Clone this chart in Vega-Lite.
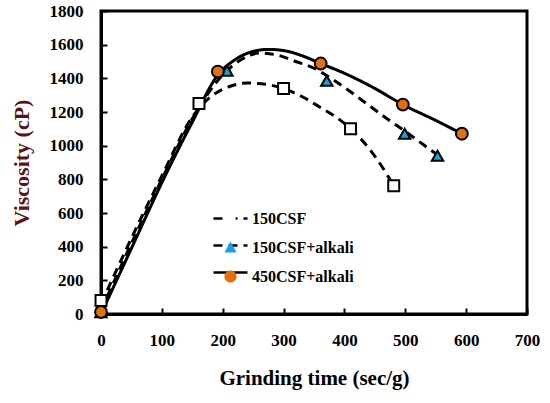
{
  "$schema": "https://vega.github.io/schema/vega-lite/v6.json",
  "autosize": "none",
  "width": 426,
  "height": 303,
  "padding": {"left": 101, "top": 11, "right": 23, "bottom": 89},
  "background": "white",
  "config": {
    "view": {"stroke": "black", "strokeWidth": 3},
    "font": "Liberation Serif",
    "axis": {"labelFont": "Liberation Serif", "titleFont": "Liberation Serif"},
    "legend": {"labelFont": "Liberation Serif", "symbolStrokeColor": "black"}
  },
  "datasets": {
    "points": [
      {"series": "150CSF", "t": 0, "v": 80},
      {"series": "150CSF", "t": 161, "v": 1250},
      {"series": "150CSF", "t": 300, "v": 1339},
      {"series": "150CSF", "t": 410, "v": 1101},
      {"series": "150CSF", "t": 481, "v": 762},
      {"series": "150CSF+alkali", "t": 0, "v": 10},
      {"series": "150CSF+alkali", "t": 207, "v": 1445},
      {"series": "150CSF+alkali", "t": 371, "v": 1385},
      {"series": "150CSF+alkali", "t": 499, "v": 1071},
      {"series": "150CSF+alkali", "t": 553, "v": 940},
      {"series": "450CSF+alkali", "t": 0, "v": 12},
      {"series": "450CSF+alkali", "t": 192, "v": 1440},
      {"series": "450CSF+alkali", "t": 361, "v": 1488},
      {"series": "450CSF+alkali", "t": 496, "v": 1244},
      {"series": "450CSF+alkali", "t": 593, "v": 1071}
    ],
    "curves": [
      {"series": "150CSF", "t": 0, "v": 60},
      {"series": "150CSF", "t": 50, "v": 450},
      {"series": "150CSF", "t": 100, "v": 820},
      {"series": "150CSF", "t": 150, "v": 1170},
      {"series": "150CSF", "t": 180, "v": 1290},
      {"series": "150CSF", "t": 210, "v": 1350},
      {"series": "150CSF", "t": 240, "v": 1372},
      {"series": "150CSF", "t": 270, "v": 1365},
      {"series": "150CSF", "t": 300, "v": 1338},
      {"series": "150CSF", "t": 330, "v": 1292},
      {"series": "150CSF", "t": 360, "v": 1228},
      {"series": "150CSF", "t": 390, "v": 1160},
      {"series": "150CSF", "t": 410, "v": 1101},
      {"series": "150CSF", "t": 440, "v": 985},
      {"series": "150CSF", "t": 460, "v": 885},
      {"series": "150CSF", "t": 481, "v": 762},
      {"series": "150CSF+alkali", "t": 0, "v": 20},
      {"series": "150CSF+alkali", "t": 50, "v": 420},
      {"series": "150CSF+alkali", "t": 100, "v": 800},
      {"series": "150CSF+alkali", "t": 150, "v": 1160},
      {"series": "150CSF+alkali", "t": 200, "v": 1420},
      {"series": "150CSF+alkali", "t": 230, "v": 1510},
      {"series": "150CSF+alkali", "t": 260, "v": 1550},
      {"series": "150CSF+alkali", "t": 290, "v": 1538},
      {"series": "150CSF+alkali", "t": 320, "v": 1500},
      {"series": "150CSF+alkali", "t": 350, "v": 1460},
      {"series": "150CSF+alkali", "t": 380, "v": 1395},
      {"series": "150CSF+alkali", "t": 410, "v": 1320},
      {"series": "150CSF+alkali", "t": 440, "v": 1240},
      {"series": "150CSF+alkali", "t": 470, "v": 1160},
      {"series": "150CSF+alkali", "t": 500, "v": 1085},
      {"series": "150CSF+alkali", "t": 530, "v": 1005},
      {"series": "150CSF+alkali", "t": 553, "v": 945},
      {"series": "450CSF+alkali", "t": 0, "v": 0},
      {"series": "450CSF+alkali", "t": 50, "v": 390},
      {"series": "450CSF+alkali", "t": 100, "v": 780},
      {"series": "450CSF+alkali", "t": 150, "v": 1140},
      {"series": "450CSF+alkali", "t": 192, "v": 1420},
      {"series": "450CSF+alkali", "t": 220, "v": 1510},
      {"series": "450CSF+alkali", "t": 250, "v": 1560},
      {"series": "450CSF+alkali", "t": 275, "v": 1572},
      {"series": "450CSF+alkali", "t": 300, "v": 1565},
      {"series": "450CSF+alkali", "t": 330, "v": 1535},
      {"series": "450CSF+alkali", "t": 361, "v": 1488},
      {"series": "450CSF+alkali", "t": 400, "v": 1430},
      {"series": "450CSF+alkali", "t": 450, "v": 1340},
      {"series": "450CSF+alkali", "t": 496, "v": 1244},
      {"series": "450CSF+alkali", "t": 550, "v": 1150},
      {"series": "450CSF+alkali", "t": 593, "v": 1071}
    ]
  },
  "encoding": {
    "x": {
      "field": "t", "type": "quantitative",
      "scale": {"domain": [0, 700], "nice": false},
      "axis": {
        "title": "Grinding  time (sec/g)",
        "values": [0, 100, 200, 300, 400, 500, 600, 700],
        "format": "d",
        "grid": false, "labelFlush": false,
        "domainColor": "black", "domainWidth": 3,
        "tickColor": "black", "tickWidth": 2, "tickSize": -6,
        "labelFont": "Liberation Serif", "labelFontWeight": "bold", "labelFontSize": 17, "labelColor": "black",
        "labelPadding": 24,
        "titleFont": "Liberation Serif", "titleFontWeight": "bold", "titleFontSize": 21, "titleColor": "black",
        "titlePadding": 19
      }
    },
    "y": {
      "field": "v", "type": "quantitative",
      "scale": {"domain": [0, 1800], "nice": false},
      "axis": {
        "title": "Viscosity  (cP)",
        "values": [0, 200, 400, 600, 800, 1000, 1200, 1400, 1600, 1800],
        "format": "d",
        "grid": false, "labelFlush": false,
        "domainColor": "black", "domainWidth": 3,
        "tickColor": "black", "tickWidth": 2, "tickSize": -6,
        "labelFont": "Liberation Serif", "labelFontWeight": "bold", "labelFontSize": 17, "labelColor": "black",
        "labelPadding": 24,
        "titleFont": "Liberation Serif", "titleFontWeight": "bold", "titleFontSize": 22, "titleColor": "#5a1414",
        "titlePadding": 16
      }
    }
  },
  "layer": [
    {
      "data": {"name": "curves"},
      "mark": {"type": "line", "color": "black", "strokeWidth": 3, "interpolate": "monotone"},
      "encoding": {
        "detail": {"field": "series"},
        "strokeDash": {
          "field": "series", "type": "nominal",
          "scale": {"range": [[9, 6], [9, 6], [1, 0]]},
          "legend": {
            "title": null,
            "orient": "none", "legendX": 111, "legendY": 189, "padding": 0,
            "symbolSize": 1156, "symbolType": "stroke",
            "symbolStrokeColor": "black", "symbolStrokeWidth": 2.5,
            "labelFont": "Liberation Serif", "labelFontWeight": "bold", "labelFontSize": 16, "labelColor": "transparent",
            "labelOffset": 3,
            "rowPadding": -3
          }
        }
      }
    },
    {
      "data": {"name": "points"},
      "mark": {"type": "point", "opacity": 0, "stroke": "black", "strokeWidth": 2.5, "filled": false},
      "encoding": {
        "shape": {
          "field": "series", "type": "nominal",
          "scale": {
            "domain": ["150CSF", "150CSF+alkali", "450CSF+alkali"],
            "range": [
              "M-1,0H-0.5M-0.3,-0.3H0.3V0.3H-0.3ZM0.5,0H1",
              "M-1,0H-0.45M0,-0.36L0.36,0.3L-0.36,0.3ZM0.45,0H1",
              "M-1,0H-0.36M0.36,0A0.36,0.36 0 1,1 -0.36,0A0.36,0.36 0 1,1 0.36,0ZM0.36,0H1"
            ]
          },
          "legend": {
            "title": null,
            "orient": "none", "legendX": 111, "legendY": 189, "padding": 0,
            "symbolSize": 1156, "symbolOpacity": 1,
            "symbolStrokeColor": "black", "symbolStrokeWidth": 2.5,
            "labelFont": "Liberation Serif", "labelFontWeight": "bold", "labelFontSize": 16, "labelColor": "black",
            "labelOffset": 3,
            "rowPadding": -3
          }
        },
        "fill": {
          "field": "series", "type": "nominal",
          "scale": {"domain": ["150CSF", "150CSF+alkali", "450CSF+alkali"], "range": ["white", "#12a3df", "#e2700f"]},
          "legend": {
            "title": null,
            "orient": "none", "legendX": 111, "legendY": 189, "padding": 0,
            "symbolSize": 1156, "symbolOpacity": 1,
            "symbolStrokeColor": "black", "symbolStrokeWidth": 2.5,
            "labelFont": "Liberation Serif", "labelFontWeight": "bold", "labelFontSize": 16, "labelColor": "black",
            "labelOffset": 3,
            "rowPadding": -3
          }
        }
      }
    },
    {
      "data": {"name": "points"},
      "transform": [{"filter": "datum.series === '150CSF'"}],
      "mark": {"type": "point", "shape": "square", "fill": "white", "filled": true, "stroke": "black", "strokeWidth": 2, "opacity": 1, "size": 120}
    },
    {
      "data": {"name": "points"},
      "transform": [{"filter": "datum.series === '150CSF+alkali'"}],
      "mark": {"type": "point", "shape": "triangle-up", "fill": "#12a3df", "filled": true, "stroke": "black", "strokeWidth": 2, "opacity": 1, "size": 130}
    },
    {
      "data": {"name": "points"},
      "transform": [{"filter": "datum.series === '450CSF+alkali'"}],
      "mark": {"type": "point", "shape": "circle", "fill": "#e2700f", "filled": true, "stroke": "black", "strokeWidth": 2, "opacity": 1, "size": 140}
    }
  ]
}
